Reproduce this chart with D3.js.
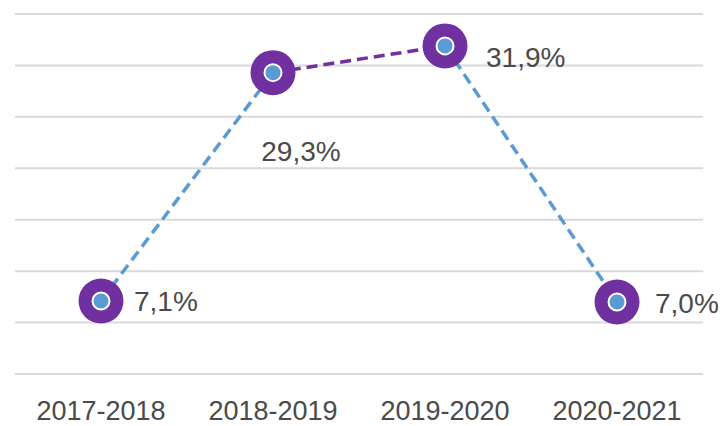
<!DOCTYPE html>
<html>
<head>
<meta charset="utf-8">
<script src="https://cdn.jsdelivr.net/npm/d3@7"></script>
<style>
  body { margin: 0; background: #fff; }
  text { font-family: "Liberation Sans", Arial, sans-serif; fill: #4a4a4a; }
</style>
</head>
<body>
<div id="chart"></div>
<script>
// data
var periods = ["2017-2018", "2018-2019", "2019-2020", "2020-2021"];
var values = [7.1, 29.3, 31.9, 7.0];
var labels = ["7,1%", "29,3%", "31,9%", "7,0%"];
var yTicks = [0, 5, 10, 15, 20, 25, 30, 35];
var segColors = ["#5b9bd5", "#7030a0", "#5b9bd5"];

// label placement (dx, dy, anchor) relative to marker
var labelPos = [[33, 0, "start"], [28, 79, "middle"], [41, 11, "start"], [38, 1, "start"]];

var width = 725, height = 426;
var svg = d3.select("#chart").append("svg")
    .attr("width", width)
    .attr("height", height);

var x = d3.scalePoint()
    .domain(periods)
    .range([15, 703])
    .padding(0.5);

var y = d3.scaleLinear()
    .domain([0, 35])
    .range([374, 14]);

// gridlines
svg.append("g")
  .selectAll("line")
  .data(yTicks)
  .enter().append("line")
    .attr("x1", 15)
    .attr("x2", 703)
    .attr("y1", function(d) { return y(d); })
    .attr("y2", function(d) { return y(d); })
    .attr("stroke", "#d9d9d9")
    .attr("stroke-width", 2);

// category labels
svg.append("g")
  .selectAll("text")
  .data(periods)
  .enter().append("text")
    .attr("x", function(d) { return x(d); })
    .attr("y", 420)
    .attr("text-anchor", "middle")
    .style("font-size", "27px")
    .text(function(d) { return d; });

// dashed segments, one colour each
var segs = d3.range(values.length - 1);
svg.append("g")
  .selectAll("line")
  .data(segs)
  .enter().append("line")
    .attr("x1", function(i) { return x(periods[i]); })
    .attr("y1", function(i) { return y(values[i]); })
    .attr("x2", function(i) { return x(periods[i + 1]); })
    .attr("y2", function(i) { return y(values[i + 1]); })
    .attr("stroke", function(i) { return segColors[i]; })
    .attr("stroke-width", 3.5)
    .attr("stroke-dasharray", "11,6");

// markers
var mk = svg.append("g")
  .selectAll("g")
  .data(values)
  .enter().append("g")
    .attr("transform", function(d, i) { return "translate(" + x(periods[i]) + "," + y(d) + ")"; });

mk.append("circle")
    .attr("r", 22.5)
    .attr("fill", "#7030a0");

mk.append("circle")
    .attr("r", 8.5)
    .attr("fill", "#5b9bd5")
    .attr("stroke", "#fff")
    .attr("stroke-width", 2);

// data labels
svg.append("g")
  .selectAll("text")
  .data(values)
  .enter().append("text")
    .attr("x", function(d, i) { return x(periods[i]) + labelPos[i][0]; })
    .attr("y", function(d, i) { return y(d) + labelPos[i][1]; })
    .attr("dy", "0.35em")
    .attr("text-anchor", function(d, i) { return labelPos[i][2]; })
    .style("font-size", "28px")
    .text(function(d, i) { return labels[i]; });
</script>
</body>
</html>
